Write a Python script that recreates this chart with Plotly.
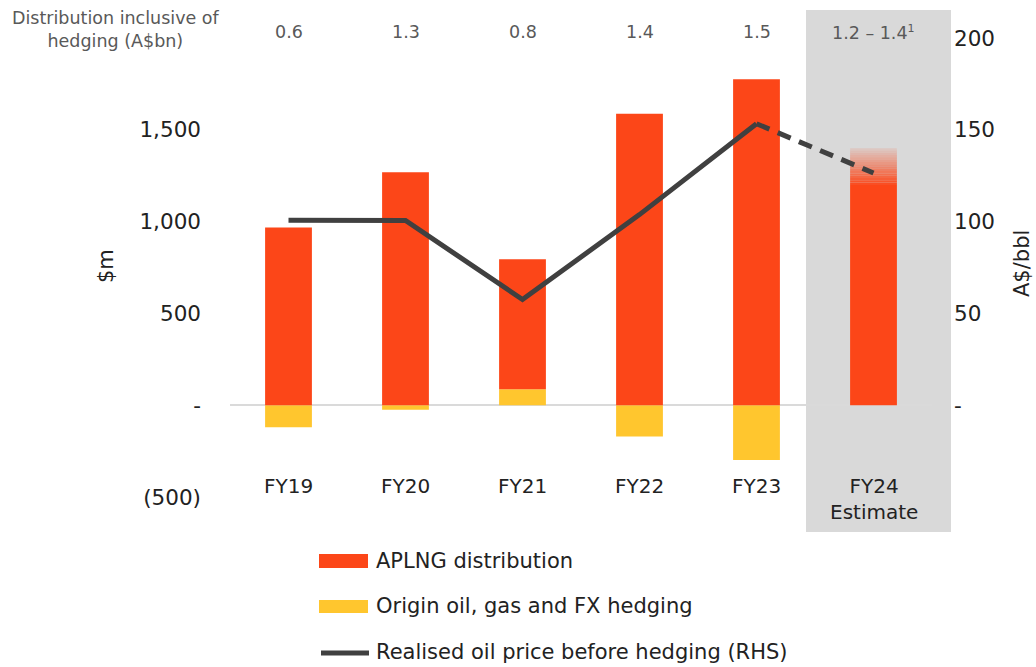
import plotly.graph_objects as go

# ---------------- data ----------------
categories = ["FY19", "FY20", "FY21", "FY22", "FY23", "FY24"]
category_labels = ["FY19", "FY20", "FY21", "FY22", "FY23", "FY24<br>Estimate"]
aplng_distribution = [968, 1269, 708, 1587, 1776, 1200]   # $m
hedging = [-120, -25, 87, -170, -298, None]               # $m
fy24_estimate_low = 1200
fy24_estimate_high = 1400
oil_price = [100.7, 100.6, 57.6, 103.8, 153.3, 126.5]     # A$/bbl (RHS)
distribution_incl_hedging = ["0.6", "1.3", "0.8", "1.4", "1.5",
                             "1.2 – 1.4<sup><span style='font-size:11px'>1</span></sup>"]

left_tickvals = [-500, 0, 500, 1000, 1500]
left_ticktext = ["(500)", "-", "500", "1,000", "1,500"]
right_tickvals = [0, 50, 100, 150, 200]
right_ticktext = ["-", "50", "100", "150", "200"]

RED = "#FC4618"
YELLOW = "#FFC62E"
LINE = "#404040"
GREY_BG = "#D9D9D9"
TXT = "#222222"
TXT2 = "#595959"
FONT = "DejaVu Sans"

fig = go.Figure()

# hedging first so APLNG stacks on top of positive hedging
fig.add_trace(go.Bar(x=categories, y=hedging, marker_color=YELLOW, width=0.4,
                     marker_line_width=0,
                     name="Origin oil, gas and FX hedging", showlegend=False))
fig.add_trace(go.Bar(x=categories, y=aplng_distribution, marker_color=RED, width=0.4,
                     marker_line_width=0,
                     name="APLNG distribution", showlegend=False))

# FY24 estimate range drawn as a fading gradient on top of the low estimate
n_steps = 16
step = (fy24_estimate_high - fy24_estimate_low) / n_steps
for i in range(n_steps):
    a = 1.0 - 0.88 * (i + 1) / n_steps
    fig.add_trace(go.Bar(x=[categories[-1]], y=[step], width=0.4,
                         marker_color=f"rgba(252,70,24,{a:.3f})",
                         marker_line_width=0, showlegend=False, hoverinfo="skip"))

# oil price line (solid actuals, dashed estimate)
fig.add_trace(go.Scatter(x=categories[:5], y=oil_price[:5], yaxis="y2", mode="lines",
                         line=dict(color=LINE, width=5), showlegend=False,
                         name="Realised oil price before hedging (RHS)"))
fig.add_trace(go.Scatter(x=categories[4:], y=oil_price[4:], yaxis="y2", mode="lines",
                         line=dict(color=LINE, width=5, dash="14px,9px"), showlegend=False))


def px2paper_x(px):
    return (px - 230) / 702


def px2paper_y(py):
    return (497 - py) / 459


shapes = [
    # grey highlight band behind FY24
    dict(type="rect", xref="paper", yref="paper",
         x0=px2paper_x(806), x1=px2paper_x(951), y0=px2paper_y(532), y1=px2paper_y(10),
         fillcolor=GREY_BG, line_width=0, layer="below"),
    # legend swatches
    dict(type="rect", xref="paper", yref="paper",
         x0=px2paper_x(319), x1=px2paper_x(368), y0=px2paper_y(568), y1=px2paper_y(554),
         fillcolor=RED, line_width=0),
    dict(type="rect", xref="paper", yref="paper",
         x0=px2paper_x(319), x1=px2paper_x(368), y0=px2paper_y(613), y1=px2paper_y(600),
         fillcolor=YELLOW, line_width=0),
    dict(type="line", xref="paper", yref="paper",
         x0=px2paper_x(321), x1=px2paper_x(369), y0=px2paper_y(653), y1=px2paper_y(653),
         line=dict(color=LINE, width=5)),
]

annotations = []
# category labels
for c, lab in zip(categories, category_labels):
    annotations.append(dict(x=c, y=px2paper_y(472), xref="x", yref="paper", text=lab,
                            showarrow=False, yanchor="top", xanchor="center",
                            font=dict(family=FONT, size=20, color=TXT)))
# top row
annotations.append(dict(x=px2paper_x(116), y=px2paper_y(30), xref="paper", yref="paper",
                        text="Distribution inclusive of<br>hedging (A$bn)", showarrow=False,
                        xanchor="center", yanchor="middle",
                        font=dict(family=FONT, size=17.5, color=TXT2), align="center"))
for c, v in zip(categories, distribution_incl_hedging):
    annotations.append(dict(x=c, y=px2paper_y(32), xref="x", yref="paper", text=v,
                            showarrow=False, xanchor="center", yanchor="middle",
                            font=dict(family=FONT, size=17.5, color=TXT2)))
# axis titles
annotations.append(dict(x=px2paper_x(106), y=px2paper_y(266), xref="paper", yref="paper",
                        text="$m", textangle=-90, showarrow=False,
                        xanchor="center", yanchor="middle",
                        font=dict(family=FONT, size=21, color=TXT)))
annotations.append(dict(x=px2paper_x(1022), y=px2paper_y(264), xref="paper", yref="paper",
                        text="A$/bbl", textangle=-90, showarrow=False,
                        xanchor="center", yanchor="middle",
                        font=dict(family=FONT, size=21, color=TXT)))
# legend labels
for text, py in [("APLNG distribution", 561), ("Origin oil, gas and FX hedging", 606),
                 ("Realised oil price before hedging (RHS)", 652)]:
    annotations.append(dict(x=px2paper_x(374), y=px2paper_y(py), xref="paper", yref="paper",
                            text=text, showarrow=False, xanchor="left", yanchor="middle",
                            font=dict(family=FONT, size=21, color=TXT)))

fig.update_layout(
    width=1036, height=667,
    margin=dict(l=230, r=104, t=38, b=170),
    paper_bgcolor="white", plot_bgcolor="rgba(0,0,0,0)",
    barmode="relative", bargap=0.6,
    font=dict(family=FONT, color=TXT),
    xaxis=dict(type="category", range=[-0.5, 5.5], showticklabels=False, showgrid=False,
               zeroline=False, showline=False, ticks=""),
    yaxis=dict(range=[-500, 2000], tickvals=left_tickvals, ticktext=left_ticktext,
               showgrid=False, zeroline=True, zerolinecolor="#DADADA", zerolinewidth=2,
               showline=False, ticks="", ticklabelstandoff=28,
               tickfont=dict(family=FONT, size=21.5, color=TXT)),
    yaxis2=dict(range=[-50, 200], overlaying="y", side="right", tickvals=right_tickvals,
                ticktext=right_ticktext, showgrid=False, zeroline=False, showline=False,
                ticks="", ticklabelstandoff=21,
                tickfont=dict(family=FONT, size=21.5, color=TXT)),
    shapes=shapes,
    annotations=annotations,
    showlegend=False,
)

fig.write_html("out.html", config={"displayModeBar": False},
               post_script="document.body.style.margin='0';document.body.style.overflow='hidden';")
